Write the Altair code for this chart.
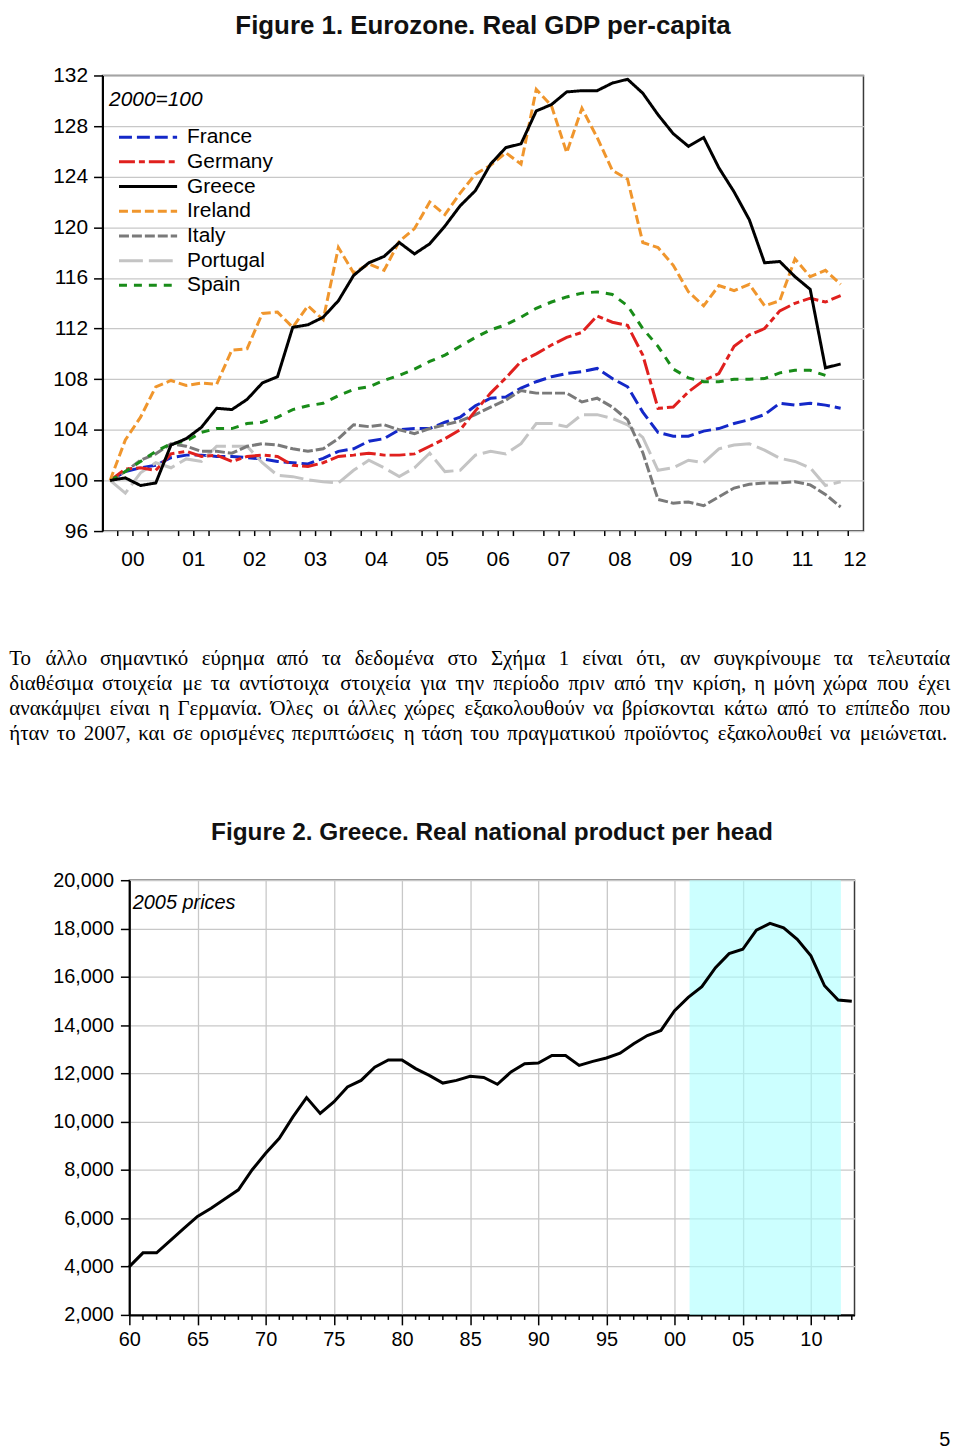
import altair as alt
import pandas as pd

SANS = "Liberation Sans, Arial, sans-serif"
SERIF = "Liberation Serif, Times New Roman, serif"
GRID = "#c8c8c8"
FRAME = "#3a3a3a"

# ---------------- Figure 1 data (quarterly, 2000Q1 ...) ----------------
countries = ["France", "Germany", "Greece", "Ireland", "Italy", "Portugal", "Spain"]
colors = ["#1428c8", "#e0201e", "#000000", "#f0962d", "#7a7a7a", "#c4c4c4", "#198c19"]
dashes = [[13, 5], [16, 4, 6, 4], [1, 0], [9, 4], [10, 3], [24, 6], [8, 7]]
draw_order = ["France", "Portugal", "Italy", "Germany", "Spain", "Ireland", "Greece"]
start_year = 2000
years_major = list(range(2000, 2013))

france = [100, 100.7, 101.0, 101.2, 101.8, 102.0, 102.0, 101.9, 101.9, 101.8,
          101.7, 101.5, 101.4, 101.3, 101.75, 102.3, 102.5, 103.1, 103.3, 104.0,
          104.1, 104.1, 104.6, 105.0, 105.9, 106.5, 106.6, 107.3, 107.8, 108.2,
          108.45, 108.6, 108.85, 108.05, 107.4, 105.4, 103.8, 103.5, 103.5, 103.9,
          104.1, 104.5, 104.8, 105.2, 106.1, 105.95, 106.1, 105.95, 105.7]
germany = [100, 100.9, 101.0, 100.8, 102.1, 102.3, 101.9, 102.0, 101.5, 101.9,
           102.0, 101.9, 101.2, 101.1, 101.4, 101.9, 102.0, 102.15, 102.0, 102.0,
           102.1, 102.7, 103.3, 104.0, 105.5, 106.9, 108.1, 109.4, 110.0, 110.7,
           111.3, 111.7, 113.0, 112.5, 112.25, 109.9, 105.7, 105.8, 107.0, 107.9,
           108.45, 110.6, 111.5, 112.0, 113.4, 114.0, 114.4, 114.1, 114.6]
greece = [100, 100.2, 99.6, 99.8, 102.8, 103.3, 104.2, 105.7, 105.6, 106.4,
          107.7, 108.2, 112.1, 112.3, 112.9, 114.2, 116.2, 117.2, 117.7, 118.8,
          117.9, 118.7, 120.1, 121.7, 122.9, 125.0, 126.3, 126.6, 129.2, 129.7,
          130.7, 130.8, 130.8, 131.4, 131.7, 130.6, 128.9, 127.4, 126.4, 127.1,
          124.7, 122.8, 120.6, 117.2, 117.3, 116.1, 115.1, 108.9, 109.2]
ireland = [100, 103.2, 105.0, 107.4, 107.9, 107.5, 107.7, 107.6, 110.3, 110.4,
           113.2, 113.3, 112.1, 113.8, 112.7, 118.4, 116.4, 117.1, 116.6, 118.9,
           119.9, 122.0, 121.0, 122.7, 124.2, 124.9, 125.9, 125.0, 130.9, 129.6,
           125.9, 129.4, 127.1, 124.5, 123.8, 118.8, 118.4, 117.0, 114.9, 113.8,
           115.4, 115.0, 115.5, 113.8, 114.2, 117.5, 116.1, 116.6, 115.5]
italy = [100, 100.7, 101.6, 102.1, 102.9, 102.7, 102.3, 102.3, 102.15, 102.7,
         102.9, 102.8, 102.5, 102.3, 102.5, 103.3, 104.4, 104.25, 104.4, 104.0,
         103.7, 104.1, 104.4, 104.7, 105.2, 105.8, 106.35, 107.1, 106.9, 106.9,
         106.9, 106.2, 106.5, 105.8, 104.8, 102.2, 98.5, 98.2, 98.3, 98.0,
         98.7, 99.4, 99.7, 99.8, 99.8, 99.9, 99.65, 98.9, 97.9]
portugal = [100, 99.0, 100.6, 101.4, 101.0, 101.7, 101.5, 102.7, 102.7, 102.7,
            101.4, 100.4, 100.3, 100.05, 99.9, 99.8, 100.8, 101.6, 101.0, 100.3,
            101.0, 102.15, 100.7, 100.8, 102.0, 102.3, 102.1, 102.9, 104.5, 104.5,
            104.25, 105.2, 105.2, 104.9, 104.4, 103.4, 100.8, 101.0, 101.6, 101.4,
            102.5, 102.8, 102.9, 102.4, 101.75, 101.5, 101.0, 99.6, 99.9]
spain = [100, 100.7, 101.5, 102.3, 102.9, 103.1, 103.8, 104.1, 104.1, 104.5,
         104.6, 105.0, 105.6, 105.9, 106.1, 106.7, 107.2, 107.4, 107.9, 108.3,
         108.8, 109.4, 109.9, 110.6, 111.3, 111.9, 112.3, 112.9, 113.6, 114.1,
         114.5, 114.8, 114.9, 114.7, 113.8, 112.0, 110.6, 108.8, 108.1, 107.8,
         107.8, 108.0, 108.0, 108.05, 108.5, 108.7, 108.7, 108.3]

series = {"France": france, "Germany": germany, "Greece": greece, "Ireland": ireland,
          "Italy": italy, "Portugal": portugal, "Spain": spain}

# ---------------- Figure 2 data (annual) ----------------
years2 = list(range(1960, 2014))
gnp = [4000, 4570, 4570, 5080, 5580, 6080, 6420, 6800, 7180, 8000,
       8690, 9310, 10200, 11000, 10340, 10820, 11440, 11710, 12260, 12560,
       12560, 12200, 11920, 11600, 11710, 11880, 11830, 11550, 12060, 12400,
       12430, 12740, 12740, 12330, 12500, 12640, 12840, 13230, 13570, 13780,
       14600, 15150, 15590, 16380, 16960, 17140, 17930, 18210, 18030, 17550,
       16870, 15630, 15040, 14990]
shade_span = [2001.1, 2012.2]

# ---------------- Paragraph ----------------
para_lines = [
    "Το άλλο σημαντικό εύρημα από τα δεδομένα στο Σχήμα 1 είναι ότι, αν συγκρίνουμε τα τελευταία",
    "διαθέσιμα στοιχεία με τα αντίστοιχα στοιχεία για την περίοδο πριν από την κρίση, η μόνη χώρα που έχει",
    "ανακάμψει είναι η Γερμανία. Όλες οι άλλες χώρες εξακολουθούν να βρίσκονται κάτω από το επίπεδο που",
    "ήταν το 2007, και σε ορισμένες περιπτώσεις η τάση του πραγματικού προϊόντος εξακολουθεί να μειώνεται.",
]
para_right = [954, 954, 954, 951]
page_number = "5"

# ======================= Figure 1 =======================
W1, H1 = 765, 458
rows = []
for name in draw_order:
    for k, v in enumerate(series[name]):
        rows.append({"country": name, "t": start_year + k / 4 + 0.125, "v": v})
df1 = pd.DataFrame(rows)

xs1 = alt.Scale(domain=[2000, 2012.5], nice=False, zero=False)
ys1 = alt.Scale(domain=[96, 132], nice=False, zero=False)
color_scale = alt.Scale(domain=countries, range=colors)
dash_scale = alt.Scale(domain=countries, range=dashes)

lines1 = alt.Chart(df1).mark_line(strokeWidth=3, clip=True).encode(
    x=alt.X("t:Q", scale=xs1, axis=alt.Axis(values=years_major, labels=False, title=None,
                                            tickSize=10, tickWidth=1.5, grid=True,
                                            gridColor=GRID, gridWidth=1.3,
                                            domainWidth=2)),
    y=alt.Y("v:Q", scale=ys1, axis=alt.Axis(values=list(range(96, 133, 4)), title=None,
                                            tickSize=9, tickWidth=1.5, labelPadding=6,
                                            labelFontSize=21, grid=True, gridColor=GRID,
                                            gridWidth=1.3, domainWidth=2)),
    color=alt.Color("country:N", scale=color_scale, legend=None),
    strokeDash=alt.StrokeDash("country:N", scale=dash_scale, legend=None),
)

quarter_ticks = [y + q / 4 for y in years_major for q in (1, 2, 3) if y + q / 4 < 2012.5]
minor1 = alt.Chart(pd.DataFrame({"m": quarter_ticks})).mark_rule(
    color="black", strokeWidth=1.5).encode(
    x=alt.X("m:Q", scale=xs1, axis=None), y=alt.value(H1), y2=alt.value(H1 + 5))

yl = pd.DataFrame({"year": years_major, "lab": [f"{y % 100:02d}" for y in years_major]})
labels1 = alt.Chart(yl).transform_calculate(
    xp="min(datum.year + 0.5, 2012.36)").mark_text(
    fontSize=21, font=SANS, color="black", baseline="middle").encode(
    x=alt.X("xp:Q", scale=xs1, axis=None), y=alt.value(H1 + 29), text="lab:N")

leg_df = pd.DataFrame({"country": countries, "idx": list(range(len(countries)))})
leg_y = alt.Y("idx:Q", scale=alt.Scale(domain=[0, 6], range=[62, 211]), axis=None)
leg_rules = alt.Chart(leg_df).mark_rule(strokeWidth=3).encode(
    x=alt.value(16.6), x2=alt.value(75), y=leg_y,
    color=alt.Color("country:N", scale=color_scale, legend=None),
    strokeDash=alt.StrokeDash("country:N", scale=dash_scale, legend=None))
leg_text = alt.Chart(leg_df).mark_text(
    align="left", baseline="middle", fontSize=21, font=SANS, color="black").encode(
    x=alt.value(85), y=leg_y, text="country:N")
note1 = alt.Chart(pd.DataFrame({"s": ["2000=100"]})).mark_text(
    align="left", baseline="middle", fontSize=21, fontStyle="italic", font=SANS,
    color="black").encode(x=alt.value(6.6), y=alt.value(24.3), text="s:N")

chart1 = alt.layer(lines1, minor1, labels1, leg_rules, leg_text, note1).resolve_scale(
    y="independent").properties(
    width=W1, height=H1,
    title=alt.TitleParams("Figure 1. Eurozone. Real GDP per-capita", fontSize=26,
                          font=SANS, fontWeight="bold", color="#111111",
                          anchor="middle", frame="group", offset=26))

# ======================= Paragraph =======================
CW = {' ': 0.25, ',': 0.25, '.': 0.25, 'ι': 0.28, 'ί': 0.28, 'ϊ': 0.28,
      'ε': 0.42, 'έ': 0.42, 'ς': 0.42, 'ζ': 0.42, 'τ': 0.44, 'γ': 0.46, 'ν': 0.46,
      'χ': 0.47, 'ξ': 0.44, 'λ': 0.48, 'θ': 0.48, 'δ': 0.48, 'υ': 0.48, 'ύ': 0.48,
      'μ': 0.53, 'π': 0.52, 'σ': 0.52, 'α': 0.52, 'ά': 0.52, 'φ': 0.62, 'ψ': 0.66,
      'ω': 0.68, 'ώ': 0.68, 'Τ': 0.61, 'Σ': 0.6, 'Γ': 0.58, 'Ό': 0.8}
FS = 21
LEFT = 8
prow = []
for i, line in enumerate(para_lines):
    words = line.split(" ")
    widths = [sum(CW.get(c, 0.5) for c in w) * FS for w in words]
    gap = (para_right[i] - LEFT - sum(widths)) / (len(words) - 1)
    x = LEFT
    for j, (w, wd) in enumerate(zip(words, widths)):
        if j == len(words) - 1:
            prow.append({"line": i, "word": w, "x": para_right[i], "anchor": "right"})
        else:
            prow.append({"line": i, "word": w, "x": x, "anchor": "left"})
        x += wd + gap
pdf = pd.DataFrame(prow)
O1 = 101.7
px = alt.X("x:Q", scale=alt.Scale(domain=[0, 960], range=[-O1, 960 - O1]), axis=None)
py = alt.Y("line:Q", scale=alt.Scale(domain=[0, 3], range=[115, 190]), axis=None)
pbase = alt.Chart(pdf)
pleft = pbase.transform_filter("datum.anchor == 'left'").mark_text(
    align="left", baseline="alphabetic", fontSize=FS, font=SERIF, color="black").encode(
    x=px, y=py, text="word:N")
pright = pbase.transform_filter("datum.anchor == 'right'").mark_text(
    align="right", baseline="alphabetic", fontSize=FS, font=SERIF, color="black").encode(
    x=px, y=py, text="word:N")
para = alt.layer(pleft, pright).properties(
    width=W1, height=311, view=alt.ViewBackground(stroke="transparent"))

# ======================= Figure 2 =======================
W2, H2 = 729, 437
df2 = pd.DataFrame({"year": years2, "v": gnp})
xs2 = alt.Scale(domain=[1960, 2013.2], nice=False, zero=False)
ys2 = alt.Scale(domain=[2000, 20000], nice=False, zero=False)
x_axis2 = alt.Axis(
    values=list(range(1960, 2011, 5)), title=None, tickSize=10, tickWidth=1.5,
    labelExpr="substring(toString(datum.value), 2, 4)", labelFlush=False,
    labelOverlap=False, labelPadding=5, labelFontSize=20, grid=True,
    gridColor=GRID, gridWidth=1.3, domainWidth=2)
y_axis2 = alt.Axis(
    values=list(range(2000, 20001, 2000)), format=",d", title=None, tickSize=9,
    tickWidth=1.5, labelPadding=7, labelFontSize=20, grid=True, gridColor=GRID,
    gridWidth=1.3, domainWidth=2)

line2 = alt.Chart(df2).mark_line(color="black", strokeWidth=3).encode(
    x=alt.X("year:Q", scale=xs2, axis=x_axis2),
    y=alt.Y("v:Q", scale=ys2, axis=y_axis2))
shade = alt.Chart(pd.DataFrame({"a": [shade_span[0]], "b": [shade_span[1]]})).mark_rect(
    color="#aaffff", opacity=0.6).encode(
    x=alt.X("a:Q", scale=xs2, axis=x_axis2), x2="b:Q", y=alt.value(0), y2=alt.value(H2))
minor_years = [y for y in range(1961, 2014) if y % 5 != 0]
minor2 = alt.Chart(pd.DataFrame({"m": minor_years})).mark_rule(
    color="black", strokeWidth=1.5).encode(
    x=alt.X("m:Q", scale=xs2, axis=x_axis2), y=alt.value(H2), y2=alt.value(H2 + 5))
note2 = alt.Chart(pd.DataFrame({"s": ["2005 prices"]})).mark_text(
    align="left", baseline="middle", fontSize=20, fontStyle="italic", font=SANS,
    color="black").encode(x=alt.value(3.4), y=alt.value(22.7), text="s:N")
pnum = alt.Chart(pd.DataFrame({"s": [page_number]})).mark_text(
    align="center", baseline="alphabetic", fontSize=20, font=SANS,
    color="black").encode(x=alt.value(819.7), y=alt.value(569), text="s:N")

chart2 = alt.layer(shade, line2, minor2, note2, pnum).properties(
    width=W2, height=H2,
    title=alt.TitleParams("Figure 2. Greece. Real national product per head", fontSize=24.5,
                          font=SANS, fontWeight="bold", color="#111111",
                          anchor="middle", frame="group", offset=25))

spacer = alt.Chart(pd.DataFrame({"s": [""]})).mark_text().encode(text="s:N").properties(
    width=26.6, height=H2, view=alt.ViewBackground(stroke="transparent"))
row2 = alt.hconcat(spacer, chart2, spacing=0, bounds="flush")

chart = alt.vconcat(chart1, para, row2, spacing=20, bounds="flush").properties(
    padding=0
).configure_view(stroke=FRAME, strokeWidth=1.5).configure_axis(
    labelFont=SANS, labelColor="black", domainColor="black", tickColor="black"
)

chart.save("out.html", embed_options={"renderer": "svg", "actions": False})
